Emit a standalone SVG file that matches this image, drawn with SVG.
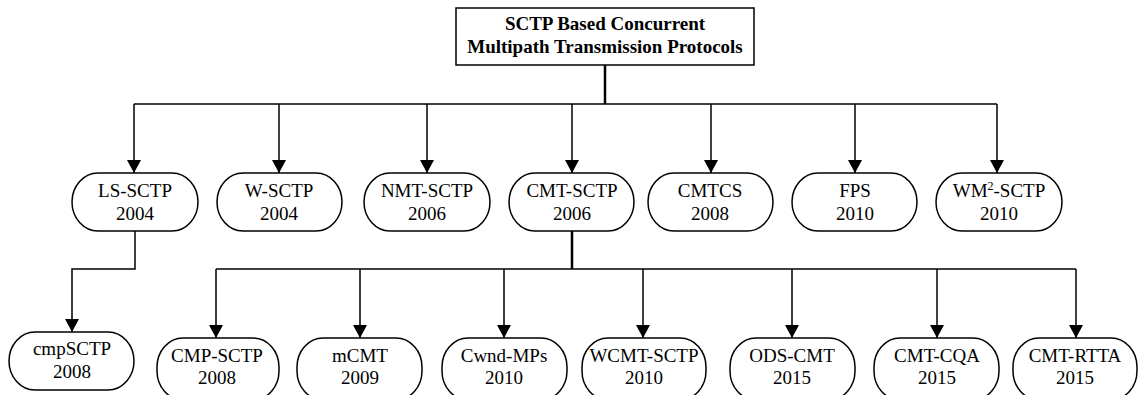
<svg xmlns="http://www.w3.org/2000/svg" width="1138" height="395" viewBox="0 0 1138 395">
<style>
.n{fill:#fff;stroke:#000;stroke-width:1.5}
.t{font-family:"Liberation Serif","Times New Roman",serif;font-size:19px;fill:#000;text-anchor:middle}
.b{font-weight:bold}
.c{fill:none;stroke:#000;stroke-width:1.5}
.s{fill:none;stroke:#000;stroke-width:2.5}
</style>
<defs>
<marker id="ah" markerUnits="userSpaceOnUse" markerWidth="14" markerHeight="14" refX="13" refY="7" orient="auto">
<path d="M0,0 L13,7 L0,14 Z" fill="#000"/>
</marker>
</defs>
<rect width="1138" height="395" fill="#fff"/>
<g id="connectors">
<path class="s" d="M605,65 V104"/>
<path class="c" d="M134,104 H997"/>
<path class="c" d="M134,104 V173" marker-end="url(#ah)"/>
<path class="c" d="M279,104 V173" marker-end="url(#ah)"/>
<path class="c" d="M427,104 V173" marker-end="url(#ah)"/>
<path class="c" d="M572,104 V173" marker-end="url(#ah)"/>
<path class="c" d="M711,104 V173" marker-end="url(#ah)"/>
<path class="c" d="M855,104 V173" marker-end="url(#ah)"/>
<path class="c" d="M997,104 V173" marker-end="url(#ah)"/>
<path class="c" d="M135,231 V269 H72 V332" marker-end="url(#ah)"/>
<path class="s" d="M572,231 V269"/>
<path class="c" d="M216,269 H1076"/>
<path class="c" d="M216,269 V338" marker-end="url(#ah)"/>
<path class="c" d="M360,269 V338" marker-end="url(#ah)"/>
<path class="c" d="M504,269 V338" marker-end="url(#ah)"/>
<path class="c" d="M643,269 V338" marker-end="url(#ah)"/>
<path class="c" d="M792,269 V338" marker-end="url(#ah)"/>
<path class="c" d="M937,269 V338" marker-end="url(#ah)"/>
<path class="c" d="M1076,269 V338" marker-end="url(#ah)"/>
</g>
<g id="root">
<rect x="456" y="8" width="298" height="57" fill="#fff" stroke="#000" stroke-width="1.5"/>
<text class="t b" x="605" y="30">SCTP Based Concurrent</text>
<text class="t b" x="605" y="53">Multipath Transmission Protocols</text>
</g>
<g id="ls-sctp"><rect class="n" x="72" y="173" width="126" height="58" rx="26" ry="29"/><text class="t" x="135" y="197">LS-SCTP</text><text class="t" x="135" y="220">2004</text></g>
<g id="w-sctp"><rect class="n" x="217" y="173" width="125" height="58" rx="26" ry="29"/><text class="t" x="279" y="197">W-SCTP</text><text class="t" x="279" y="220">2004</text></g>
<g id="nmt-sctp"><rect class="n" x="364" y="173" width="126" height="58" rx="26" ry="29"/><text class="t" x="427" y="197">NMT-SCTP</text><text class="t" x="427" y="220">2006</text></g>
<g id="cmt-sctp"><rect class="n" x="509" y="173" width="125" height="58" rx="26" ry="29"/><text class="t" x="572" y="197">CMT-SCTP</text><text class="t" x="572" y="220">2006</text></g>
<g id="cmtcs"><rect class="n" x="648" y="173" width="125" height="58" rx="26" ry="29"/><text class="t" x="710" y="197">CMTCS</text><text class="t" x="710" y="220">2008</text></g>
<g id="fps"><rect class="n" x="792" y="173" width="125" height="58" rx="26" ry="29"/><text class="t" x="855" y="197">FPS</text><text class="t" x="855" y="220">2010</text></g>
<g id="wm2-sctp"><rect class="n" x="936" y="173" width="126" height="58" rx="26" ry="29"/><text class="t" x="999" y="197">WM<tspan font-size="12" dy="-7">2</tspan><tspan dy="7">-SCTP</tspan></text><text class="t" x="999" y="220">2010</text></g>
<g id="cmpsctp"><rect class="n" x="9" y="332" width="125" height="58" rx="26" ry="29"/><text class="t" x="72" y="355">cmpSCTP</text><text class="t" x="72" y="378">2008</text></g>
<g id="cmp-sctp"><rect class="n" x="157" y="338" width="122" height="62" rx="26" ry="29"/><text class="t" x="217" y="362">CMP-SCTP</text><text class="t" x="217" y="384">2008</text></g>
<g id="mcmt"><rect class="n" x="297" y="338" width="125" height="62" rx="26" ry="29"/><text class="t" x="360" y="362">mCMT</text><text class="t" x="360" y="384">2009</text></g>
<g id="cwnd-mps"><rect class="n" x="442" y="338" width="125" height="62" rx="26" ry="29"/><text class="t" x="504" y="362">Cwnd-MPs</text><text class="t" x="504" y="384">2010</text></g>
<g id="wcmt-sctp"><rect class="n" x="582" y="338" width="124" height="62" rx="26" ry="29"/><text class="t" x="644" y="362">WCMT-SCTP</text><text class="t" x="644" y="384">2010</text></g>
<g id="ods-cmt"><rect class="n" x="730" y="338" width="125" height="62" rx="26" ry="29"/><text class="t" x="792" y="362">ODS-CMT</text><text class="t" x="792" y="384">2015</text></g>
<g id="cmt-cqa"><rect class="n" x="874" y="338" width="125" height="62" rx="26" ry="29"/><text class="t" x="937" y="362">CMT-CQA</text><text class="t" x="937" y="384">2015</text></g>
<g id="cmt-rtta"><rect class="n" x="1013" y="338" width="124" height="62" rx="26" ry="29"/><text class="t" x="1075" y="362">CMT-RTTA</text><text class="t" x="1075" y="384">2015</text></g>
</svg>
